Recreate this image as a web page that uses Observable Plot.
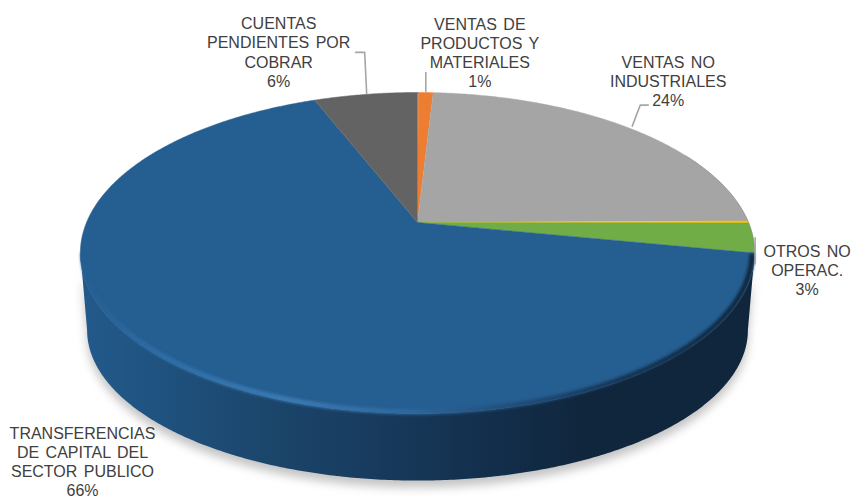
<!DOCTYPE html>
<html>
<head>
<meta charset="utf-8">
<script src="https://cdn.jsdelivr.net/npm/d3@7"></script>
<script src="https://cdn.jsdelivr.net/npm/@observablehq/plot@0.6"></script>
<style>html,body{margin:0;padding:0;background:#fff}svg{display:block}</style>
</head>
<body>
<script>
// Data, clockwise from 12 o'clock
const categories = ["Sin rotulo A","Ventas de productos","Ventas no industriales","Sin rotulo B","Otros no operac.","Transferencias","Cuentas"];
const shares = [0.05, 0.85, 23.95, 0.2, 3.0, 66.0, 5.95];
const colors = ["#5B9BD5","#ED7D31","#A5A5A5","#FFC000","#70AD47","#255E91","#636363"];
const labelTexts = [null,"VENTAS DE\nPRODUCTOS Y\nMATERIALES\n1%","VENTAS NO\nINDUSTRIALES\n24%",null,"OTROS NO\nOPERAC.\n3%","TRANSFERENCIAS\nDE CAPITAL DEL\nSECTOR PUBLICO\n66%","CUENTAS\nPENDIENTES POR\nCOBRAR\n6%"];

// Layout: label block offset from the slice's rim midpoint (px), and leader bends (px)
const labelOffsets = [null,[54,-40.5],[39,-47],null,[54,32],[-87,99.5],[-87,-42.5]];
const leaders = [null,[[0,-1],[0,-20]],[[3,-2],[11,-23],[19,-23]],null,[[2,0],[2,26]],null,[[1,-1],[-1,-42],[-10,-42]]];

// Perspective of the disc
const RX = 331, RY = 154.7, K = 0.19, CX = 417, CY = 222;
const BX = 0.98, BY = 0.9375, BO = 79 / RY;
const project = (t) => {
  const u = Math.sin(t), v = Math.cos(t), w = 1 + K * v;
  return {x: u / w, y: v / w};
};
const lower = (p) => ({x: p.x * BX, y: p.y * BY - BO});
const deg = Math.PI / 180;
const arc = (a, b) => {
  const n = Math.max(2, Math.ceil((b - a) / (0.5 * deg)));
  return d3.range(n + 1).map((i) => project(a + (b - a) * i / n));
};

const total = d3.sum(shares);
let acc = 0;
const slices = categories.map((category, i) => {
  const a = acc / total * 2 * Math.PI;
  acc += shares[i];
  const b = acc / total * 2 * Math.PI;
  return {category, i, a, b, mid: (a + b) / 2};
});

const sliceRows = slices.flatMap((s) => [{x: 0, y: 0}, ...arc(s.a, s.b)].map((p) => ({...p, category: s.category})));
const tangent = Math.acos(-K) / deg; // where the rim is widest on screen
const sideFront = arc(tangent * deg, (360 - tangent) * deg);
const sideRows = [...sideFront, ...sideFront.slice().reverse().map(lower)];
const shadowRows = sideRows.map((p) => ({x: p.x, y: p.y - 7 / RY}));
const blue = slices.find((s) => s.category === "Transferencias");
const rimBlue = arc(blue.a + 1 * deg, blue.b - 80 * deg).map((p) => ({x: p.x * 0.992, y: p.y * 0.992}));
const rimGrey = arc(62 * deg, 101 * deg);

const defsMark = () => {
  const d = document.createElementNS("http://www.w3.org/2000/svg", "defs");
  d.innerHTML = `
  <linearGradient id="side" x1="0" x2="1" y1="0" y2="0">
    <stop offset="0" stop-color="#235a8b"/><stop offset="0.12" stop-color="#1f527f"/>
    <stop offset="0.3" stop-color="#1b4469"/><stop offset="0.45" stop-color="#173a5c"/>
    <stop offset="0.6" stop-color="#132f4c"/><stop offset="0.75" stop-color="#10263d"/>
    <stop offset="1" stop-color="#10263c"/>
  </linearGradient>
  <linearGradient id="bevel" x1="0" x2="1" y1="0" y2="0">
    <stop offset="0" stop-color="#255e91"/><stop offset="0.1" stop-color="#2d6ca3"/>
    <stop offset="0.3" stop-color="#3b7cb6"/><stop offset="0.48" stop-color="#2f6a9f"/>
    <stop offset="0.62" stop-color="#224f7c"/><stop offset="0.82" stop-color="#14324f"/>
    <stop offset="1" stop-color="#10263c"/>
  </linearGradient>`;
  return d;
};

const unitOffset = (p, o) => ({x: p.x + o[0] / RX, y: p.y - o[1] / RY});

const labelMarks = slices.filter((s) => labelTexts[s.i]).map((s) => {
  const p = project(s.mid), o = labelOffsets[s.i];
  return Plot.text([{...p, label: labelTexts[s.i]}], {
    x: "x", y: "y", text: "label", dx: o[0], dy: o[1],
    lineAnchor: "middle", textAnchor: "middle", lineHeight: 1.19, fill: "#404040",
    fontFamily: "Liberation Sans", fontSize: 16
  });
});
const leaderMarks = slices.filter((s) => leaders[s.i]).map((s) => {
  const p = project(s.mid);
  return Plot.line(leaders[s.i].map((o) => unitOffset(p, o)), {
    x: "x", y: "y", stroke: "#a6a6a6", strokeWidth: 1.6, curve: "linear"
  });
});

const chart = Plot.plot({
  width: 851, height: 498, margin: 0,
  x: {domain: [-1, 1], range: [CX - RX, CX + RX], axis: null},
  y: {domain: [-1, 1], range: [CY + RY, CY - RY], axis: null},
  color: {domain: categories, range: colors},
  style: {background: "#fff", wordSpacing: "2px"},
  marks: [
    defsMark,
    Plot.line(shadowRows, {x: "x", y: "y", fill: "#c4c4c4", stroke: "none", imageFilter: "blur(5px)"}),
    Plot.line(sideRows, {x: "x", y: "y", fill: "url(#side)", stroke: "none"}),
    Plot.line(sliceRows, {x: "x", y: "y", z: "category", fill: "category", stroke: "category", strokeWidth: 0.5}),
    Plot.line(rimBlue, {x: "x", y: "y", stroke: "url(#bevel)", strokeWidth: 5, imageFilter: "blur(1.5px)"}),
    Plot.line(rimGrey, {x: "x", y: "y", stroke: "#6e6e6e", strokeWidth: 1, strokeOpacity: 0.4}),
    ...leaderMarks,
    ...labelMarks
  ]
});
document.body.append(chart);
</script>
</body>
</html>
